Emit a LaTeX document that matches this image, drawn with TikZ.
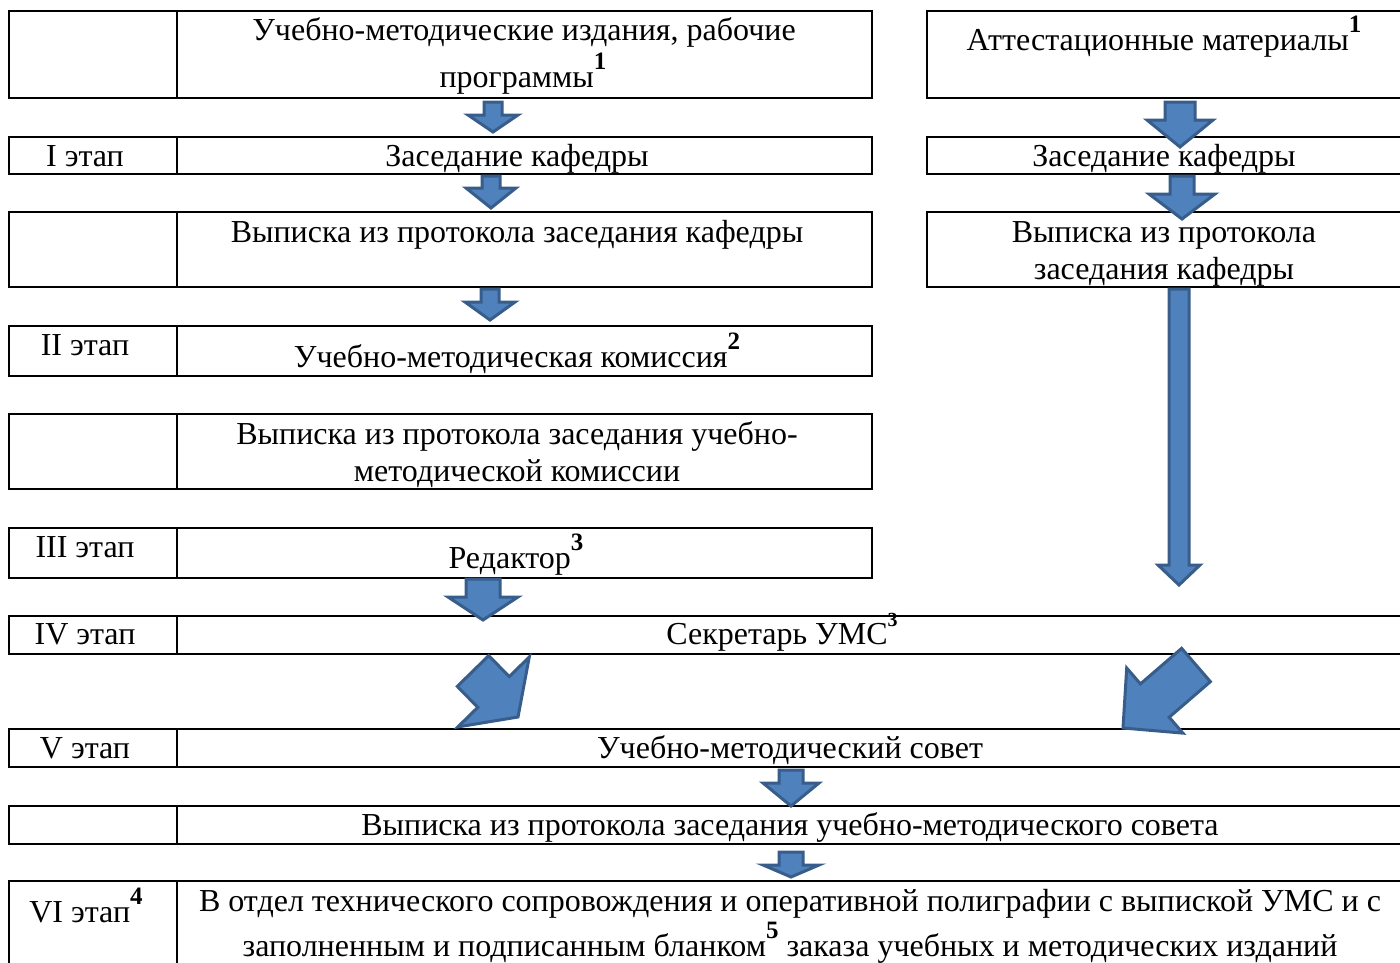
\documentclass[tikz,border=0pt]{standalone}
\usepackage{fontspec}
\setmainfont{Liberation Serif}
\usetikzlibrary{calc}
\definecolor{arrfill}{HTML}{4F81BD}
\definecolor{arrline}{HTML}{385D8A}
\newcommand\supnum[2][18pt]{\raisebox{#1}{\fontsize{25}{25}\selectfont\bfseries #2}}
\newcommand\smallsup[1]{\raisebox{18pt}{\fontsize{20}{20}\selectfont\bfseries #1}}
\newcommand\blockarrow[5]{%
  \coordinate (#1-h) at ($(#2)!#5!(#1)$);
  \draw[barrow] ($(#1)!#3!90:(#2)$) -- ($(#1-h)!#3!90:(#2)$) -- ($(#1-h)!#4!90:(#2)$) -- (#2)
    -- ($(#1-h)!#4!-90:(#2)$) -- ($(#1-h)!#3!-90:(#2)$) -- ($(#1)!#3!-90:(#2)$) -- cycle;}
\tikzset{
  cell/.style={draw=black, line width=1.3pt},
  txt/.style={anchor=base, inner sep=0pt, yshift=-1pt, font=\fontsize{32}{37}\selectfont},
  barrow/.style={fill=arrfill, draw=arrline, line width=3pt, line join=miter}
}
\begin{document}
\begin{tikzpicture}[x=1pt,y=-1pt]
\useasboundingbox (0,0) rectangle (1400,962);
\clip (0,0) rectangle (1400,962);
% ---------- left column boxes
\foreach \a/\b in {11/98,137/174,212/287,326/376,414/489,528/578}{
  \draw[cell] (9,\a) rectangle (872,\b);
  \draw[cell] (177,\a) -- (177,\b);
}
% ---------- full width rows
\foreach \a/\b in {616/654,729/767,806/844,881/975}{
  \draw[cell] (9,\a) rectangle (1420,\b);
  \draw[cell] (177,\a) -- (177,\b);
}
% ---------- right column boxes
\foreach \a/\b in {11/98,137/174,212/287}{
  \draw[cell] (927,\a) rectangle (1420,\b);
}
% ---------- texts, left column
\node[txt] (t1a) at (524,39) {Учебно-методические издания, рабочие};
\node[txt] (t1b) at (523,86) {программы\supnum{1}};
\node[txt] (s1) at (85,165) {I этап};
\node[txt] (t2) at (517,165) {Заседание кафедры};
\node[txt] (t3) at (517,241) {Выписка из протокола заседания кафедры};
\node[txt] (s2) at (85,354) {II этап};
\node[txt] (t4) at (517,366) {Учебно-методическая комиссия\supnum{2}};
\node[txt] (t5a) at (517,443) {Выписка из протокола заседания учебно-};
\node[txt] (t5b) at (517,480) {методической комиссии};
\node[txt] (s3) at (85,556) {III этап};
\node[txt] (t6) at (516,567) {Редактор\supnum{3}};
% ---------- full rows
\node[txt] (s4) at (85,643) {IV этап};
\node[txt] (t7) at (782,643) {Секретарь УМС\smallsup{3}};
\node[txt] (s5) at (85,757) {V этап};
\node[txt] (t8) at (790,757) {Учебно-методический совет};
\node[txt] (t9) at (790,834) {Выписка из протокола заседания учебно-методического совета};
\node[txt] (s6) at (86,921) {VI этап\supnum{4}};
\node[txt] (t10a) at (790,910) {В отдел технического сопровождения и оперативной полиграфии с выпиской УМС и с};
\node[txt] (t10b) at (790,955) {заполненным и подписанным бланком\supnum{5} заказа учебных и методических изданий};
% ---------- right column
\node[txt] (r1) at (1164,49) {Аттестационные материалы\supnum{1}};
\node[txt] (r2) at (1164,165) {Заседание кафедры};
\node[txt] (r3a) at (1164,241) {Выписка из протокола};
\node[txt] (r3b) at (1164,278) {заседания кафедры};
% ---------- arrow end points
\coordinate (a1s) at (493,102); \coordinate (a1e) at (493,132);
\coordinate (a2s) at (491,176); \coordinate (a2e) at (491,208);
\coordinate (a3s) at (490,289); \coordinate (a3e) at (490,320);
\coordinate (a4s) at (483,579); \coordinate (a4e) at (483,620);
\coordinate (a5s) at (791,770); \coordinate (a5e) at (791,806);
\coordinate (a6s) at (791,852); \coordinate (a6e) at (791,877);
\coordinate (b1s) at (1180,102); \coordinate (b1e) at (1180,147);
\coordinate (b2s) at (1182,176); \coordinate (b2e) at (1182,219);
\coordinate (b3s) at (1179,289); \coordinate (b3e) at (1179,585);
\coordinate (d1s) at (473,671); \coordinate (d1e) at (518,717);
\coordinate (d2s) at (1196,665); \coordinate (d2e) at (1123,728);
% ---------- block arrows
\blockarrow{a1s}{a1e}{9pt}{25pt}{17pt}
\blockarrow{a2s}{a2e}{9pt}{25pt}{20pt}
\blockarrow{a3s}{a3e}{9pt}{25pt}{18pt}
\blockarrow{a4s}{a4e}{17pt}{35pt}{23pt}
\blockarrow{a5s}{a5e}{12pt}{28pt}{23pt}
\blockarrow{a6s}{a6e}{12pt}{28pt}{12pt}
\blockarrow{b1s}{b1e}{15pt}{33pt}{27pt}
\blockarrow{b2s}{b2e}{12pt}{33pt}{25pt}
\blockarrow{b3s}{b3e}{10pt}{21pt}{20pt}
\blockarrow{d1s}{d1e}{22pt}{50pt}{35pt}
\blockarrow{d2s}{d2e}{22pt}{43pt}{42pt}
\end{tikzpicture}
\end{document}
